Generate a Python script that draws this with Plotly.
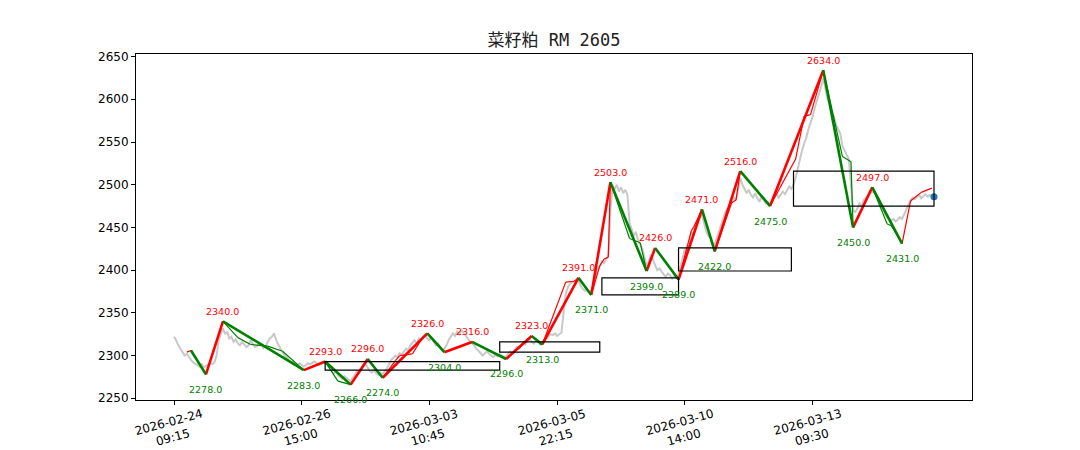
import plotly.graph_objects as go

# ---------------- data ----------------
tick_idx = [0, 60, 120, 180, 240, 300]
tick_labels = ["2026-02-24<br>09:15", "2026-02-26<br>15:00", "2026-03-03<br>10:45",
               "2026-03-05<br>22:15", "2026-03-10<br>14:00", "2026-03-13<br>09:30"]
y_ticks = [2250, 2300, 2350, 2400, 2450, 2500, 2550, 2600, 2650]

close_a = [2322, 2318, 2312, 2308, 2305, 2300,
           2302, 2298, 2295, 2292, 2290, 2288, 2287, 2290, 2286,
           2288, 2289, 2291, 2290, 2292, 2300, 2318, 2326,
           2332, 2325, 2328, 2320, 2322, 2316, 2319, 2314,
           2312, 2316, 2313, 2310, 2312, 2318, 2314, 2310, 2311, 2315, 2313, 2309, 2311, 2316, 2320,
           2322, 2326, 2318, 2312, 2308, 2304, 2300,
           2298, 2295, 2292, 2294, 2290, 2288, 2291, 2289, 2287]
close_b = [2289, 2291, 2290, 2292, 2293, 2291, 2289, 2290, 2292, 2291, 2290,
           2286, 2282, 2279, 2281, 2277, 2275, 2273, 2276, 2274, 2272, 2270,
           2274, 2278, 2282, 2280, 2284, 2287, 2290, 2286, 2282, 2280, 2283, 2279, 2277, 2280, 2278,
           2282, 2285, 2290, 2295, 2297, 2300, 2298, 2303, 2301, 2305, 2308, 2306, 2312, 2315, 2318,
           2314, 2320, 2318, 2322, 2324,
           2320, 2318, 2322, 2316, 2312, 2314, 2310, 2306, 2308]
close_c = [2312, 2318, 2322, 2326, 2323, 2328, 2325, 2330, 2327, 2324, 2320, 2316, 2314,
           2312, 2308, 2306, 2303, 2300, 2302, 2305, 2302, 2300, 2298, 2301, 2299, 2302, 2300, 2298, 2299,
           2302, 2305, 2303, 2307, 2310, 2308, 2312, 2315, 2313, 2317, 2319, 2316, 2314, 2318, 2315, 2313, 2316,
           2318, 2320, 2322, 2325, 2324, 2326, 2323, 2325, 2327, 2350, 2372, 2380, 2384, 2386, 2385, 2387, 2388,
           2382, 2378, 2376, 2377, 2374, 2376, 2378,
           2392, 2400, 2405, 2410, 2408, 2414, 2418, 2470]
close_d = [2498, 2495, 2500, 2492, 2497, 2490, 2494, 2488,
           2455, 2448, 2440, 2445, 2435, 2430, 2425, 2415, 2405,
           2410, 2418, 2412, 2405, 2400, 2402, 2398, 2395, 2392, 2396, 2394, 2390, 2393, 2391, 2395,
           2405, 2415, 2425, 2420, 2435, 2445, 2440, 2452, 2458, 2462, 2465,
           2455, 2445, 2440, 2438, 2432, 2430,
           2438, 2445, 2452, 2460, 2468, 2472, 2476, 2480, 2485, 2482, 2495, 2508,
           2500, 2495, 2490, 2494, 2488, 2485, 2490, 2484, 2480, 2486, 2482, 2478, 2480, 2477]
close_e = [2482, 2486, 2490, 2485, 2488, 2492, 2489, 2494, 2498, 2495, 2500,
           2508, 2520, 2530, 2540, 2548, 2555, 2565, 2572, 2580, 2590, 2598, 2605, 2615, 2625,
           2612, 2600, 2595, 2585, 2580, 2570, 2565, 2560,
           2545, 2540, 2535, 2530, 2500, 2470,
           2468, 2472, 2478, 2475, 2482, 2485, 2488, 2490, 2492,
           2490, 2488, 2484, 2478, 2470, 2466, 2462, 2460, 2458, 2460, 2457, 2459, 2462, 2460,
           2466, 2472, 2478, 2482, 2485, 2483, 2486, 2488, 2484, 2487, 2489, 2486, 2488, 2487, 2486]
close = close_a + close_b + close_c + close_d + close_e

# strokes (thick zigzag)
stroke_idx = [8, 15, 23, 61, 71, 83, 91, 98, 119, 127, 140, 156, 168, 173, 190, 196, 205, 222,
              226, 237, 248, 254, 266, 280, 305, 319, 328, 342]
stroke_val = [2306, 2278, 2340, 2283, 2293, 2266, 2296, 2274, 2326, 2304, 2316, 2296, 2323, 2313,
              2391, 2371, 2503, 2399, 2426, 2389, 2471, 2422, 2516, 2475, 2634, 2450, 2497, 2431]

# sub-level zigzag (thin)
sub_idx = [6, 8, 15, 23, 30, 36, 44, 51, 61, 71, 77, 83, 91, 98, 104, 106, 112, 116, 119, 127,
           140, 156, 168, 173, 184, 188, 190, 196, 200, 202, 204, 205, 214, 219, 222, 226, 237,
           243, 244, 248, 254, 262, 264, 266, 280, 292, 296, 299, 305, 314, 318, 319, 328, 335,
           337, 342, 346, 351, 356]
sub_val = [2304, 2306, 2278, 2340, 2321, 2313, 2311, 2305, 2283, 2293, 2270, 2266, 2296, 2274,
           2294, 2300, 2302, 2318, 2326, 2304, 2316, 2296, 2323, 2313, 2386, 2387, 2391, 2371,
           2405, 2413, 2415, 2503, 2437, 2432, 2399, 2426, 2389, 2446, 2450, 2471, 2422, 2479,
           2482, 2516, 2475, 2530, 2580, 2582, 2634, 2533, 2527, 2450, 2497, 2454, 2452, 2431,
           2481, 2491, 2496]

# pivot boxes
box_x0 = [71, 153, 201, 237, 291]
box_x1 = [153, 200, 237, 290, 357]
box_lo = [2283, 2304, 2371, 2399, 2475]
box_hi = [2293, 2316, 2391, 2426, 2516]

RED = "#ff0000"
GREEN = "#008000"
FONT = "DejaVu Sans"


def split_segments(xs, ys):
    rx, ry, gx, gy = [], [], [], []
    for i in range(len(xs) - 1):
        if ys[i + 1] > ys[i]:
            rx += [xs[i], xs[i + 1], None]
            ry += [ys[i], ys[i + 1], None]
        else:
            gx += [xs[i], xs[i + 1], None]
            gy += [ys[i], ys[i + 1], None]
    return rx, ry, gx, gy


fig = go.Figure()
fig.add_trace(go.Scatter(x=list(range(len(close))), y=close, mode="lines",
                         line=dict(color="#c8c8c8", width=2), hoverinfo="skip", showlegend=False))

rx, ry, gx, gy = split_segments(sub_idx, sub_val)
fig.add_trace(go.Scatter(x=rx, y=ry, mode="lines", line=dict(color=RED, width=1.2), showlegend=False))
fig.add_trace(go.Scatter(x=gx, y=gy, mode="lines", line=dict(color=GREEN, width=1.2), showlegend=False))

rx, ry, gx, gy = split_segments(stroke_idx, stroke_val)
fig.add_trace(go.Scatter(x=rx, y=ry, mode="lines", line=dict(color=RED, width=2.6), showlegend=False))
fig.add_trace(go.Scatter(x=gx, y=gy, mode="lines", line=dict(color=GREEN, width=2.6), showlegend=False))

fig.add_trace(go.Scatter(x=[len(close) - 1], y=[close[-1]], mode="markers",
                         marker=dict(color="#1f77b4", size=7), showlegend=False))

for x0, x1, lo, hi in zip(box_x0, box_x1, box_lo, box_hi):
    fig.add_shape(type="rect", xref="x", yref="y", x0=x0, x1=x1, y0=lo, y1=hi,
                  line=dict(color="black", width=1.2), fillcolor="rgba(0,0,0,0)")

annotations = []
for i in range(1, len(stroke_idx)):
    v = stroke_val[i]
    top = v > stroke_val[i - 1]
    annotations.append(dict(x=stroke_idx[i], y=v, xref="x", yref="y", text=f"{v:.1f}",
                            showarrow=False, xanchor="center", yanchor="middle",
                            yshift=10 if top else -15,
                            font=dict(family=FONT, size=9.5, color=RED if top else GREEN)))

for t, lab in zip(tick_idx, tick_labels):
    annotations.append(dict(x=t, y=-0.087, xref="x", yref="paper", text=lab, showarrow=False,
                            textangle=-15, xanchor="center", yanchor="middle", align="center",
                            xshift=-3, font=dict(family=FONT, size=12, color="black")))

fig.update_layout(
    width=1080, height=450,
    paper_bgcolor="white", plot_bgcolor="white",
    margin=dict(l=128, r=116, t=46, b=58),
    title=dict(text="菜籽粕 RM 2605", x=0.5, xref="paper", y=1 - 32 / 450, yref="container",
               xanchor="center", yanchor="middle",
               font=dict(family="DejaVu Sans Mono, Noto Sans CJK SC", size=17, color="#222222")),
    annotations=annotations,
    showlegend=False,
    xaxis=dict(range=[-17.85, 374.85], tickvals=tick_idx, showticklabels=False,
               ticks="outside", ticklen=4, tickcolor="black", showline=True, mirror=True,
               linecolor="black", linewidth=1, showgrid=False, zeroline=False),
    yaxis=dict(range=[2248, 2653], tickvals=y_ticks, ticks="outside", ticklen=4,
               tickcolor="black", showline=True, mirror=True, linecolor="black", linewidth=1,
               showgrid=False, zeroline=False,
               tickfont=dict(family=FONT, size=12, color="black")),
)

fig.write_html("out.html")
